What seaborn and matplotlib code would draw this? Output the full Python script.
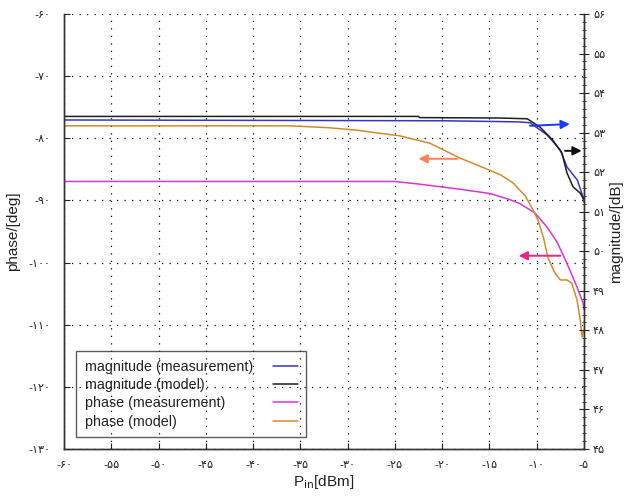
import matplotlib
matplotlib.use("Agg")
import matplotlib.pyplot as plt
import seaborn as sns

# power sweep (dBm) and curves
mag_meas_pin = [-60, -20, -14, -11.8, -10.7, -8.9, -7.5, -6.8, -5.7, -5.1, -5.0]
mag_meas_db = [53.32, 53.30, 53.28, 53.27, 53.25, 52.94, 52.56, 52.13, 51.80, 51.37, 51.25]

mag_model_pin = [-60, -22.5, -22.4, -14, -11.0, -9.65, -8.3, -7.33, -6.8, -6.16, -5.4, -5.0]
mag_model_db = [53.41, 53.41, 53.38, 53.37, 53.35, 53.14, 52.81, 52.48, 51.98, 51.63, 51.47, 51.30]

phase_meas_pin = [-60, -25, -22.3, -18.1, -14.9, -12.8, -11.8, -10.2, -8.9, -7.85, -7.2,
                  -6.5, -5.75, -5.1, -5.0]
phase_meas_deg = [-86.95, -86.95, -87.4, -88.2, -88.9, -89.9, -90.5, -92.0, -94.3, -96.7, -98.8,
                  -101.2, -103.9, -106.5, -107.6]

phase_model_pin = [-60, -36, -32, -29, -26.6, -24.5, -21.3, -18.1, -16.0, -13.8, -12.5, -11.2,
                   -10.4, -9.86, -9.3, -8.8, -8.07, -7.5, -6.8, -6.3, -5.74, -5.4, -5.2, -5.05]
phase_model_deg = [-78.0, -78.0, -78.3, -78.7, -79.2, -79.6, -80.8, -83.2, -84.5, -85.9, -87.2, -89.3,
                   -91.5, -93.2, -95.9, -99.3, -101.7, -102.8, -102.8, -103.3, -106.0, -109.2, -112.0, -111.0]

x_ticks = list(range(-60, -4, 5))
phase_ticks = list(range(-130, -59, 10))
mag_ticks = list(range(45, 57))

PERSIAN = str.maketrans("0123456789", "۰۱۲۳۴۵۶۷۸۹")


def fa(v):
    return str(v).translate(PERSIAN)


sns.set_style("white")
plt.rcParams["font.family"] = ["Liberation Sans", "DejaVu Sans"]

fig = plt.figure(figsize=(6.24, 4.98), dpi=100)
ax = fig.add_axes([0.1026, 0.0984, 0.8333, 0.8735])
ax2 = ax.twinx()

c_mag_meas = "#3535c8"
c_mag_model = "#1e1e1e"
c_ph_meas = "#dc33dc"
c_ph_model = "#d48a2a"

sns.lineplot(x=mag_meas_pin, y=mag_meas_db, ax=ax2, color=c_mag_meas, lw=1.1,
             label="magnitude (measurement)", legend=False)
sns.lineplot(x=mag_model_pin, y=mag_model_db, ax=ax2, color=c_mag_model, lw=1.1,
             label="magnitude (model)", legend=False)
sns.lineplot(x=phase_meas_pin, y=phase_meas_deg, ax=ax, color=c_ph_meas, lw=1.1,
             label="phase (measurement)", legend=False)
sns.lineplot(x=phase_model_pin, y=phase_model_deg, ax=ax, color=c_ph_model, lw=1.1,
             label="phase (model)", legend=False)

ax.set_xlim(-60, -5)
ax.set_ylim(-130, -60)
ax2.set_ylim(45, 56)

tick_font = dict(family="DejaVu Sans", fontsize=8, color="#222222")
ax.set_xticks(x_ticks)
ax.set_xticklabels(["-" + fa(-t) for t in x_ticks], **tick_font)
ax.set_yticks(phase_ticks)
ax.set_yticklabels(["-" + fa(-t) for t in phase_ticks], **tick_font)
ax2.set_yticks(mag_ticks)
ax2.set_yticklabels([fa(t) for t in mag_ticks], **tick_font)
ax2.set_yticks([45 + 0.2 * i for i in range(56)], minor=True)

ax.tick_params(axis="x", which="major", direction="in", length=4, width=0.8, pad=8,
               colors="#222222", bottom=True)
ax.tick_params(axis="y", which="major", direction="in", length=4, width=0.8, pad=10,
               colors="#222222", left=True)
ax2.tick_params(axis="y", which="major", direction="inout", length=7, width=0.8, pad=3,
                colors="#222222", right=True)
ax2.tick_params(axis="y", which="minor", direction="inout", length=3, width=0.6, right=True)

ax.grid(True, color="black", lw=0.9, linestyle=(0, (1, 5)))
ax.set_xlim(-60, -5)

for a in (ax, ax2):
    for side in ("left", "right", "bottom"):
        a.spines[side].set_color("#333333")
        a.spines[side].set_linewidth(1.0)
    a.spines["top"].set_visible(False)

ax.set_xlabel("P$_{\\mathrm{in}}$[dBm]", fontsize=11, labelpad=2, color="#222222")
ax.set_ylabel("phase/[deg]", fontsize=11, labelpad=6, color="#222222")
ax2.set_ylabel("magnitude/[dB]", fontsize=11, rotation=90, labelpad=3, color="#222222")

# arrows pointing to the axis each curve belongs to
arrow = dict(arrowstyle="-|>", mutation_scale=13, lw=1.4)
ax2.annotate("", xy=(-6.2, 53.22), xytext=(-11.0, 53.17),
             arrowprops=dict(arrow, color="#1a3cff"))
ax2.annotate("", xy=(-4.95, 52.54), xytext=(-7.3, 52.54),
             arrowprops=dict(arrow, color="#111111"))
ax.annotate("", xy=(-22.8, -83.3), xytext=(-18.1, -83.3),
            arrowprops=dict(arrow, color="#ff8050"))
ax.annotate("", xy=(-12.2, -98.9), xytext=(-7.2, -98.9),
            arrowprops=dict(arrow, color="#ee2288"))

h2, l2 = ax2.get_legend_handles_labels()
h1, l1 = ax.get_legend_handles_labels()
leg = ax2.legend(h2 + h1, l2 + l1, loc="lower left", bbox_to_anchor=(0.023, 0.027),
                 markerfirst=False, fontsize=10.3, frameon=True, fancybox=False,
                 edgecolor="#333333", handlelength=1.7, handletextpad=1.2,
                 labelspacing=0.3, borderpad=0.6, borderaxespad=0)
leg.get_frame().set_facecolor("none")
leg.get_frame().set_linewidth(1.0)
for t in leg.get_texts():
    t.set_color("#222222")
# gnuplot style key: labels flush left, samples in one column on the right
for col in leg._legend_handle_box.get_children():
    for row in col.get_children():
        row.mode = "expand"
        row.width = 213

fig.savefig("out.png", dpi=100)
